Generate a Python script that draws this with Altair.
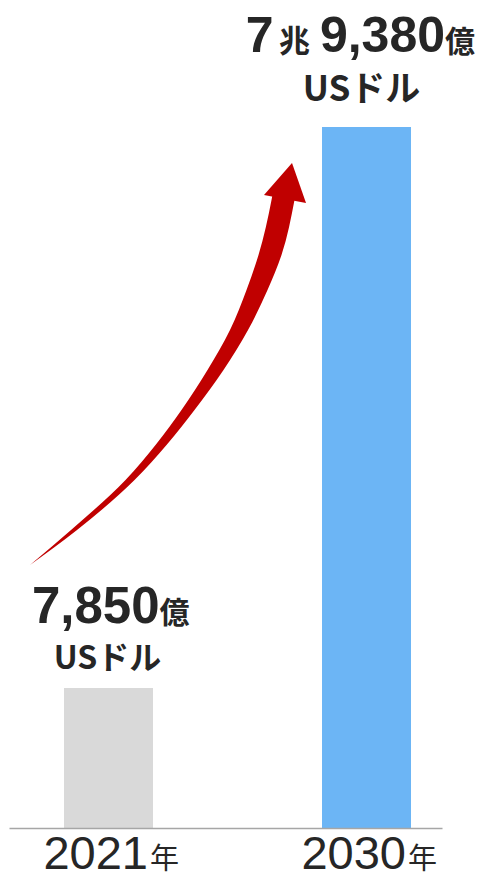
import altair as alt
import pandas as pd

# ---- data ----
years = ["2021", "2030"]
year_pos = [0, 1]
year_suffix = "年"
# drawn bar heights (picture is not to scale), in units of the 2021 bar
bar_heights = [1.0, 5.007]
bar_colors = ["#d9d9d9", "#6cb5f5"]
unit_label = "USドル"
label_2021 = ["7,850", "億"]
label_2030 = ["7", "兆", "9,380", "億"]

# red growth arrow outline (x in category units, y in bar-height units)
arrow_v = [1.8786, 2.1286, 2.4857, 2.7357, 2.9857, 3.2714, 3.5571, 3.8429, 4.0929, 4.4857, 4.5429]
arrow_left = [-0.3043, -0.1453, 0.0659, 0.1822, 0.2829, 0.3837, 0.4709, 0.5349, 0.5814, 0.6318, 0.6376]
arrow_right = [-0.3043, -0.1221, 0.1008, 0.2248, 0.3333, 0.4457, 0.5407, 0.6163, 0.6705, 0.7209, 0.7267]
head_u = [0.6977]
head_v = [4.621]

# ---- styling ----
TXT = "#262626"
RED = "#c00000"
LATIN = "Liberation Sans"
CJK = "Noto Sans CJK JP"

xscale = alt.Scale(domain=[-0.3857, 1.2926], nice=False, zero=False, padding=0)
yscale = alt.Scale(domain=[0, 5.857], nice=False, zero=True)
xaxis = alt.Axis(title=None, labels=False, ticks=False, grid=False, domain=True,
                 domainColor="#a6a6a6", domainWidth=1.5, zindex=1)

bars_df = pd.DataFrame({"pos": year_pos, "h": bar_heights, "color": bar_colors, "year": years})

bars = alt.Chart(bars_df).mark_bar(size=89).encode(
    x=alt.X("pos:Q", scale=xscale, axis=xaxis),
    y=alt.Y("h:Q", scale=yscale, axis=None),
    color=alt.Color("color:N", scale=None),
)


def piece(i, text, y_from_bar, dx, dy, align, font, size, weight):
    df = pd.DataFrame({"pos": [year_pos[i]], "h": [bar_heights[i] if y_from_bar else 0.0], "t": [text]})
    return alt.Chart(df).mark_text(
        dx=dx, dy=dy, align=align, baseline="alphabetic", font=font,
        fontSize=size, fontWeight=weight, color=TXT,
    ).encode(
        x=alt.X("pos:Q", scale=xscale, axis=xaxis),
        y=alt.Y("h:Q", scale=yscale, axis=None),
        text="t:N",
    )


labels = [
    # 2021 value label
    piece(0, label_2021[0], True, 51, -65, "right", LATIN, 51, "bold"),
    piece(0, label_2021[1], True, 51, -65, "left", CJK, 30, "bold"),
    piece(0, unit_label, True, -1, -19, "center", CJK, 32, "bold"),
    # 2030 value label
    piece(1, label_2030[0], True, -93, -75, "right", LATIN, 50, "bold"),
    piece(1, label_2030[1], True, -72, -75, "center", CJK, 31, "bold"),
    piece(1, label_2030[2], True, 78.5, -75, "right", LATIN, 50, "bold"),
    piece(1, label_2030[3], True, 78.5, -75, "left", CJK, 30, "bold"),
    piece(1, unit_label, True, -5, -26, "center", CJK, 35, "bold"),
    # year labels
    piece(0, years[0], False, 39.5, 41, "right", LATIN, 47, "normal"),
    piece(0, year_suffix, False, 41.5, 41, "left", CJK, 29, "normal"),
    piece(1, years[1], False, 39.5, 41, "right", LATIN, 47, "normal"),
    piece(1, year_suffix, False, 41.5, 41, "left", CJK, 29, "normal"),
]

arrow_df = pd.DataFrame({"v": arrow_v, "xl": arrow_left, "xr": arrow_right})
arrow = alt.Chart(arrow_df).mark_area(orient="horizontal", interpolate="monotone", color=RED).encode(
    y=alt.Y("v:Q", scale=yscale, axis=None),
    x=alt.X("xl:Q", scale=xscale, axis=xaxis),
    x2="xr:Q",
)

head_df = pd.DataFrame({"u": head_u, "v": head_v})
head = alt.Chart(head_df).mark_point(
    shape="M0,-0.857L1,0.857L-1,0.857Z", size=1830, angle=11, filled=True,
    opacity=1, color=RED, strokeWidth=0,
).encode(
    x=alt.X("u:Q", scale=xscale, axis=xaxis),
    y=alt.Y("v:Q", scale=yscale, axis=None),
)

chart = alt.layer(bars, arrow, head, *labels).properties(
    width=433, height=820,
    padding={"left": 1, "top": 0, "right": 33, "bottom": 52},
    autosize=alt.AutoSizeParams(type="none"),
).configure_view(stroke=None)

chart.save("out.html", embed_options={"renderer": "svg", "actions": False})
